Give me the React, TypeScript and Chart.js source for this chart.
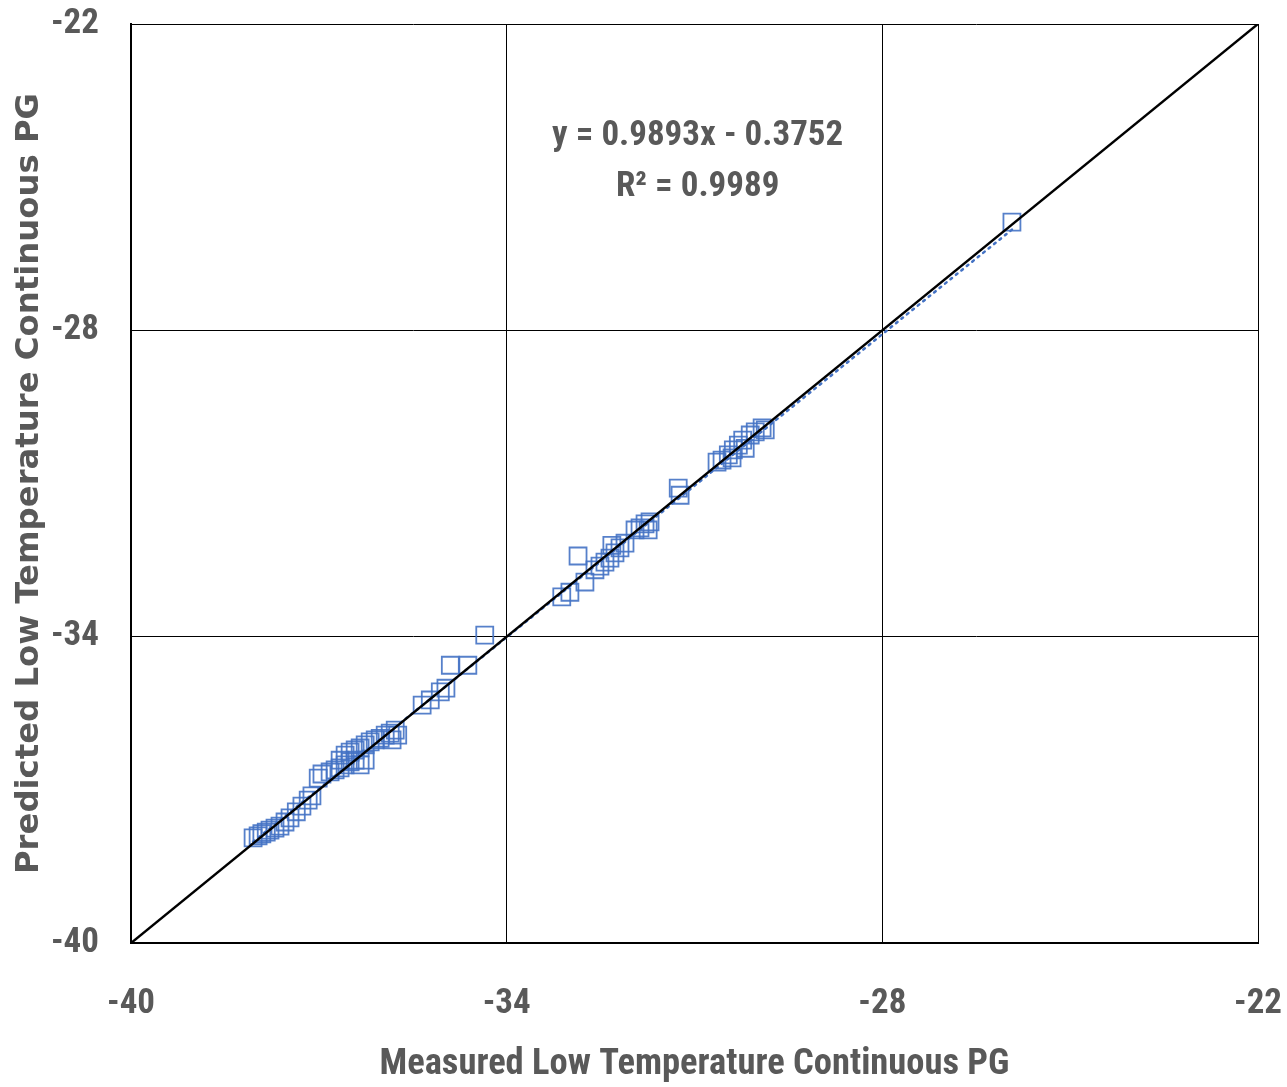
import React, { useEffect, useRef } from "react";
import { Chart, registerables } from "chart.js";
Chart.register(...registerables);

const measured = [
  -38.05, -37.97, -37.91, -37.84, -37.78, -37.70, -37.62, -37.54, -37.46, -37.36, -37.27, -37.17, -37.11,
  -37.01, -36.95, -36.82, -36.74, -36.66, -36.58, -36.50, -36.42, -36.66, -36.58, -36.50, -36.42, -36.34,
  -36.26, -36.18, -36.10, -36.02, -35.94, -35.86, -35.78, -35.74, -35.83, -36.34, -36.26,
  -35.35, -35.22, -35.06, -34.97, -34.90, -34.62, -34.35,
  -33.12, -32.99, -32.86, -32.75, -32.59, -32.51, -32.43, -32.35, -32.27, -32.19, -32.11, -31.87, -31.79,
  -31.71, -31.74, -31.95, -32.32, -31.26, -31.23,
  -30.64, -30.56, -30.46, -30.38, -30.30, -30.23, -30.11, -30.03, -29.92, -29.87, -30.40, -30.19,
  -25.93,
];
const predicted = [
  -37.94, -37.90, -37.86, -37.83, -37.79, -37.75, -37.71, -37.63, -37.55, -37.43, -37.32, -37.20, -37.12,
  -36.77, -36.69, -36.65, -36.61, -36.57, -36.51, -36.45, -36.42, -36.42, -36.32, -36.26, -36.22, -36.18,
  -36.12, -36.06, -36.02, -35.99, -35.93, -35.89, -35.83, -35.93, -36.02, -36.51, -36.42,
  -35.34, -35.24, -35.08, -35.01, -34.56, -34.56, -33.97,
  -33.22, -33.13, -32.42, -32.93, -32.69, -32.62, -32.54, -32.46, -32.36, -32.26, -32.17, -31.87, -31.79,
  -31.75, -31.91, -31.91, -32.21, -31.09, -31.23,
  -30.58, -30.54, -30.44, -30.34, -30.25, -30.15, -30.05, -29.99, -29.91, -29.95, -30.50, -30.31,
  -25.88,
];
const slope = 0.9893;
const intercept = -0.3752;
const equationLines = ["y = 0.9893x - 0.3752", "R² = 0.9989"];
const axisMin = -40;
const axisMax = -22;
const tickStep = 6;
const xTitle = "Measured Low Temperature Continuous PG";
const yTitle = "Predicted Low Temperature Continuous PG";

const GRAY = "#595959";
const BLUE = "#4472C4";
const NARROW = "'Liberation Sans Narrow', 'Roboto Condensed', Roboto, 'Liberation Sans', sans-serif";

export default function App() {
  const ref = useRef<HTMLCanvasElement>(null);
  useEffect(() => {
    const xMin = Math.min(...measured);
    const xMax = Math.max(...measured);
    const trend = [
      { x: xMin, y: slope * xMin + intercept },
      { x: xMax, y: slope * xMax + intercept },
    ];
    const diag = [
      { x: axisMin, y: axisMin },
      { x: axisMax, y: axisMax },
    ];
    const pts = measured.map((m, i) => ({ x: m, y: predicted[i] }));

    const eqPlugin = {
      id: "eq",
      afterDatasetsDraw(chart: any) {
        const { ctx, scales } = chart;
        const cx = scales.x.getPixelForValue(-30.95);
        const y0 = scales.y.getPixelForValue(-24.2);
        ctx.save();
        ctx.fillStyle = GRAY;
        ctx.font = `bold 35px ${NARROW}`;
        ctx.textAlign = "center";
        ctx.textBaseline = "middle";
        ctx.fillText(equationLines[0], cx, y0);
        ctx.fillText(equationLines[1], cx, y0 + 51);
        ctx.restore();
      },
    };

    const chart = new Chart(ref.current!, {
      type: "scatter",
      data: {
        datasets: [
          {
            label: "points",
            data: pts,
            pointStyle: "rect",
            pointRadius: 12,
            borderColor: "rgba(68,114,196,0.9)",
            backgroundColor: "rgba(0,0,0,0)",
            pointBorderWidth: 1.8,
            order: 3,
          },
          {
            label: "trend",
            data: trend,
            showLine: true,
            pointRadius: 0,
            borderColor: BLUE,
            borderWidth: 2.5,
            borderDash: [2, 5],
            borderCapStyle: "round",
            order: 2,
          },
          {
            label: "diag",
            data: diag,
            showLine: true,
            pointRadius: 0,
            borderColor: "#000",
            borderWidth: 2.5,
            order: 1,
          },
        ],
      },
      options: {
        animation: false,
        responsive: false,
        layout: { padding: { top: 24, right: 29, left: 0, bottom: 0 } },
        plugins: { legend: { display: false }, tooltip: { enabled: false } },
        scales: {
          x: {
            type: "linear",
            min: axisMin,
            max: axisMax,
            ticks: {
              stepSize: tickStep,
              color: GRAY,
              font: { family: NARROW, size: 35, weight: "bold" },
              padding: 40,
            },
            grid: { color: "#000", lineWidth: 1, drawTicks: false },
            border: { color: "#000", width: 2 },
            title: {
              display: true,
              text: xTitle,
              color: GRAY,
              font: { family: NARROW, size: 36.5, weight: "bold" },
              padding: { top: 10, bottom: 0 },
            },
            afterFit(scale: any) {
              scale.height = 144;
              scale.paddingLeft = 0;
              scale.paddingRight = 0;
            },
          },
          y: {
            type: "linear",
            min: axisMin,
            max: axisMax,
            ticks: {
              stepSize: tickStep,
              color: GRAY,
              font: { family: NARROW, size: 35, weight: "bold" },
              padding: 32,
            },
            grid: { color: "#000", lineWidth: 1, drawTicks: false },
            border: { color: "#000", width: 2 },
            title: {
              display: true,
              text: yTitle,
              color: GRAY,
              font: { family: "'DejaVu Sans', Verdana, sans-serif", size: 32.3, weight: "bold" },
              padding: { top: 10, bottom: 0 },
            },
            afterFit(scale: any) {
              scale.width = 131;
              scale.paddingTop = 0;
              scale.paddingBottom = 0;
            },
          },
        },
      },
      plugins: [eqPlugin],
    } as any);
    return () => chart.destroy();
  }, []);

  return (
    <div style={{ position: "fixed", left: 0, top: 0, width: 1287, height: 1087, background: "#fff" }}>
      <canvas ref={ref} width={1287} height={1087} style={{ width: 1287, height: 1087 }} />
    </div>
  );
}
